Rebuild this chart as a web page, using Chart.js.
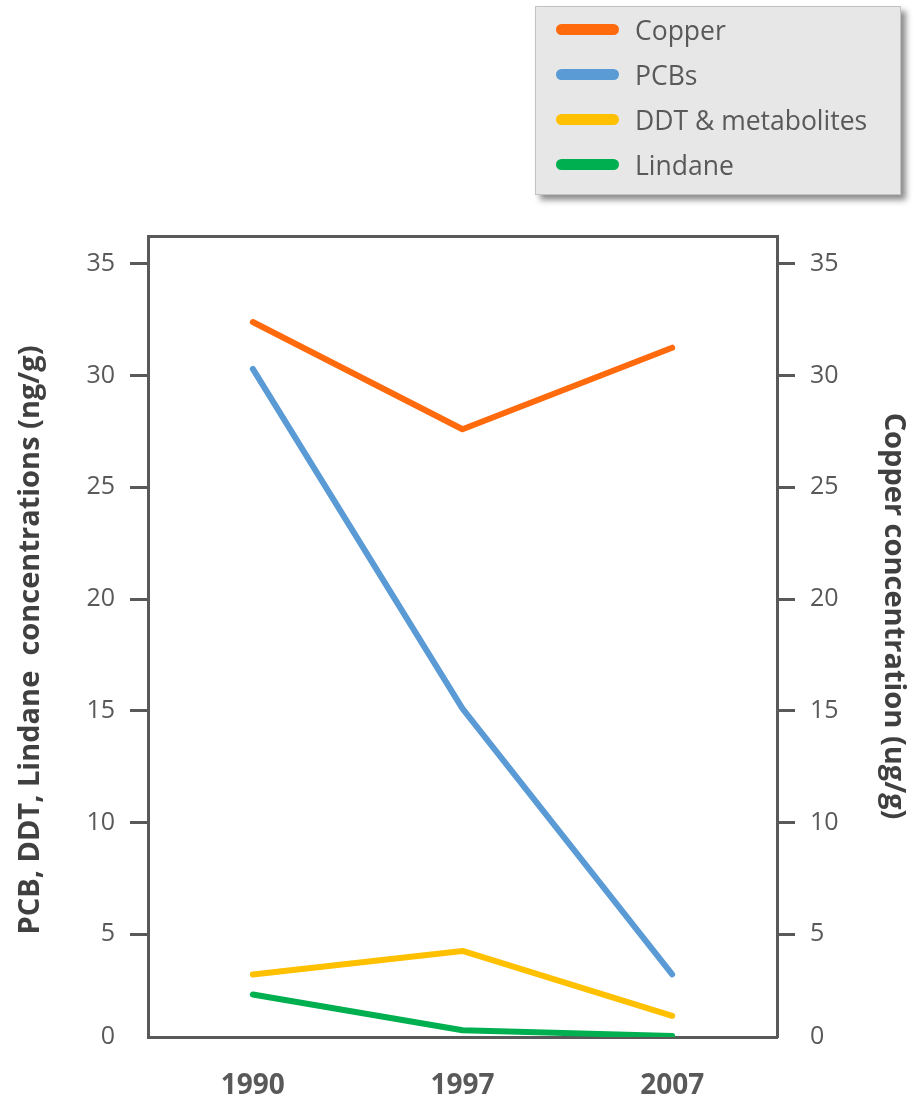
<!DOCTYPE html>
<html>
<head>
<meta charset="utf-8">
<script src="https://cdn.jsdelivr.net/npm/chart.js@4"></script>
<style>
  html, body { margin: 0; padding: 0; background: #fff; }
  #wrap { position: relative; width: 914px; height: 1097px; }
  #legend {
    position: absolute; left: 535px; top: 6px; width: 366px; height: 189px;
    box-sizing: border-box; background: #e7e7e7; border: 1px solid #c3c3c3;
    box-shadow: 5px 5px 6px rgba(0, 0, 0, 0.45);
    font-family: "Open Sans", sans-serif; font-size: 26.5px; color: #595959;
  }
  .row { height: 45px; display: flex; align-items: center; }
  .swatch { width: 63px; height: 11px; border-radius: 6px; margin-left: 20px; margin-right: 16px; }
</style>
</head>
<body>
<div id="wrap">
  <canvas id="chart"></canvas>
  <div id="legend"></div>
</div>
<script>
const years = ["1990", "1997", "2007"];
const copper = [32.4, 27.6, 31.25];
const pcbs = [30.3, 15.1, 3.2];
const ddt = [3.2, 4.25, 1.35];
const lindane = [2.3, 0.7, 0.45];
const tickValues = [5, 10, 15, 20, 25, 30, 35];

const leftTitle = "PCB, DDT, Lindane  concentrations (ng/g)";
const rightTitle = "Copper concentration (ug/g)";

const axisColor = "#595959";
const yMin = 0.4, yMax = 36.25;

// bottom label of the axis reads "0" but sits where the frame ends
function buildTicks(scale) {
    scale.ticks = [{ value: yMin }].concat(tickValues.map(v => ({ value: v })));
}

function yAxis(position, width) {
    return {
        position: position,
        min: yMin,
        max: yMax,
        afterBuildTicks: buildTicks,
        afterFit: s => { s.width = width; },
        grid: {
            drawOnChartArea: false,
            tickLength: 18,
            tickWidth: 3,
            tickColor: ctx => ctx.index === 0 ? "rgba(0,0,0,0)" : axisColor
        },
        border: { color: axisColor, width: 3 },
        ticks: {
            padding: 15,
            color: axisColor,
            font: { family: "Open Sans", size: 25 },
            callback: v => v < 1 ? "0" : v
        }
    };
}

const axisTitles = {
    id: "axisTitles",
    afterDraw(chart) {
        const { ctx, chartArea } = chart;
        ctx.save();
        ctx.fillStyle = "#404040";
        ctx.font = "bold 29px 'Open Sans'";
        ctx.textBaseline = "middle";
        ctx.textAlign = "center";

        ctx.save();
        ctx.translate(chartArea.left - 117, 640);
        ctx.rotate(-Math.PI / 2);
        ctx.fillText(leftTitle, 0, 0);
        ctx.restore();

        ctx.save();
        ctx.translate(chartArea.right + 116, 616);
        ctx.rotate(Math.PI / 2);
        ctx.fillText(rightTitle, 0, 0);
        ctx.restore();

        ctx.restore();
    }
};

const datasets = [
    { label: "Copper", data: copper, borderColor: "#ff6a0d", yAxisID: "y1" },
    { label: "PCBs", data: pcbs, borderColor: "#5b9bd5", yAxisID: "y" },
    { label: "DDT & metabolites", data: ddt, borderColor: "#ffc000", yAxisID: "y" },
    { label: "Lindane", data: lindane, borderColor: "#00b050", yAxisID: "y" }
].map(d => Object.assign(d, {
    borderWidth: 6,
    pointRadius: 0,
    borderCapStyle: "round",
    borderJoinStyle: "round",
    tension: 0
}));

const canvas = document.getElementById("chart");
canvas.width = 914;
canvas.height = 1097;

new Chart(canvas.getContext("2d"), {
    type: "line",
    data: { labels: years, datasets: datasets.slice().reverse() },
    options: {
        responsive: false,
        animation: false,
        layout: { padding: { top: 236, left: 0, right: 0, bottom: 0 } },
        plugins: { legend: { display: false }, tooltip: { enabled: false } },
        scales: {
            x: {
                offset: true,
                afterFit: s => { s.height = 1097 - 1037; },
                grid: { display: false },
                border: { color: axisColor, width: 3 },
                ticks: {
                    padding: 24,
                    color: axisColor,
                    font: { family: "Open Sans", size: 28, weight: "bold" }
                }
            },
            xTop: {
                position: "top",
                offset: true,
                afterFit: s => { s.height = 0; },
                grid: { display: false },
                border: { color: axisColor, width: 3 },
                ticks: { display: false }
            },
            y: yAxis("left", 148),
            y1: yAxis("right", 914 - 777)
        }
    },
    plugins: [axisTitles]
});

// legend box, built from the datasets
const legend = document.getElementById("legend");
datasets.forEach(d => {
    const row = document.createElement("div");
    row.className = "row";
    const sw = document.createElement("span");
    sw.className = "swatch";
    sw.style.background = d.borderColor;
    const txt = document.createElement("span");
    txt.textContent = d.label;
    row.appendChild(sw);
    row.appendChild(txt);
    legend.appendChild(row);
});
</script>
</body>
</html>
